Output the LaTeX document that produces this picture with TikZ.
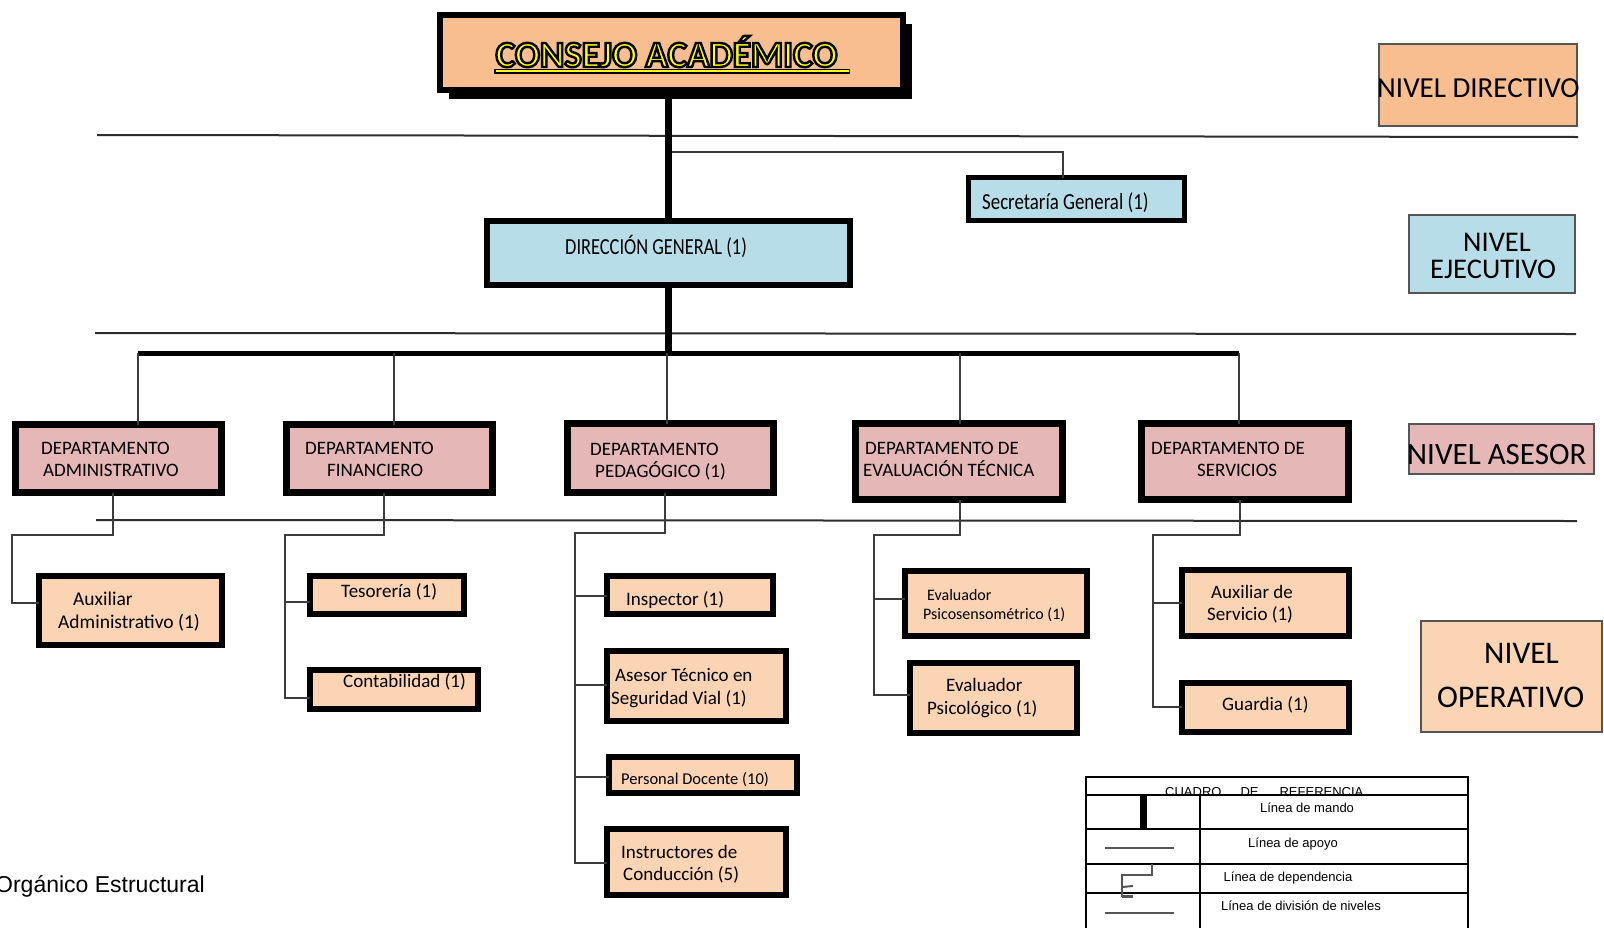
\documentclass[tikz,border=0pt]{standalone}
\usepackage{graphicx}
\usepackage{fontspec}
\setmainfont{Carlito}
\newfontfamily\arialf{Liberation Sans}
\usetikzlibrary{shadows,calc}
\definecolor{cpeach}{RGB}{248,190,143}
\definecolor{cblue}{RGB}{183,221,232}
\definecolor{cpink}{RGB}{229,184,183}
\definecolor{clight}{RGB}{251,212,180}
\definecolor{ctitle}{RGB}{255,255,0}
\definecolor{cline}{RGB}{45,45,45}
\definecolor{cdep}{RGB}{60,60,60}
\definecolor{cframe}{RGB}{85,85,85}
\newcommand{\fsz}[2]{\fontsize{#1}{#2}\selectfont}
\begin{document}
\begin{tikzpicture}[x=1pt,y=-1pt,
  box/.style={draw=black,rectangle,inner sep=0,outer sep=0},
  deptbox/.style={box,fill=cpink,line width=7pt},
  subbox/.style={box,fill=clight,line width=6pt},
  bluebox/.style={box,fill=cblue},
  levelbox/.style={box,draw=cframe,line width=2pt},
  txt/.style={inner sep=0,anchor=west,align=left},
  dtxt/.style={txt,font=\fsz{19}{22}},
  stxt/.style={txt,font=\fsz{19}{23}},
  ltxt/.style={inner sep=0,anchor=base,font=\arialf\fsz{13}{15}},
  mando/.style={line width=7pt,black},
  bus/.style={line width=5pt,black},
  apoyo/.style={line width=2.2pt,cdep},
  dep/.style={line width=2.8pt,cdep},
  nivel/.style={line width=2pt,cline},
  tabline/.style={line width=2.5pt,black},
]
\fill[white] (0,0) rectangle (1604,927);
\useasboundingbox (0,0) rectangle (1604,927);

% level division lines
\draw[nivel] (97,135) -- (1578,137);
\draw[nivel] (95,333) -- (1576,334);
\draw[nivel] (96,520) -- (1577,521);

% top
\node[box,fill=cpeach,line width=6pt,minimum width=463pt,minimum height=75pt,
  drop shadow={shadow xshift=9pt,shadow yshift=-9pt,fill=black,opacity=1}] (cons) at (671.5,52.5) {};
\draw[line width=5pt] (494,71) -- (850,71);
\draw[line width=2.2pt,ctitle] (495.5,71) -- (848.5,71);
\node[anchor=base,inner sep=0,font=\bfseries\fsz{37}{40}] (titulo) at (666.5,67)
  {\color{ctitle}\special{pdf:literal direct 0 0 0 RG 2 Tr 2.4 w}CONSEJO ACADÉMICO\special{pdf:literal direct 0 Tr 1 w}};

\node[bluebox,line width=6pt,minimum width=363pt,minimum height=64pt] (dg) at (668.5,253) {};
\node[txt] (dgT) at (565,246) {\scalebox{0.8}[1]{\fsz{23}{26}DIRECCIÓN GENERAL (1)}};
\node[bluebox,line width=5pt,minimum width=216pt,minimum height=43pt] (sec) at (1076.5,199) {};
\node[txt] (secT) at (982,203) {\scalebox{0.82}[1]{\fsz{23}{26}Secretaría General (1)}};

% command lines
\coordinate (sj) at (668.5,152);
\coordinate (bL) at (138,353);
\coordinate (bR) at (1239,353);
\coordinate (b2) at (394,353);
\coordinate (b3) at (667,353);
\coordinate (b4) at (960,353);
\draw[apoyo] (sj) -| ($(sec.north)+(-13.5,0)$);
\draw[mando] (cons.south -| dg.north) -- (dg.north);
\draw[mando] (dg.south) -- (dg.south |- bL);
\draw[bus] (bL) -- (bR);

% departments
\node[deptbox,minimum width=206pt,minimum height=68pt] (adm) at (118.5,458.5) {};
\node[deptbox,minimum width=206pt,minimum height=68pt] (fin) at (389.5,458.5) {};
\node[deptbox,minimum width=206pt,minimum height=69pt] (ped) at (670.5,458) {};
\node[deptbox,minimum width=207pt,minimum height=76pt] (ev) at (959,461.5) {};
\node[deptbox,minimum width=207pt,minimum height=76pt] (serv) at (1245,461.5) {};
\draw[apoyo] (bL) -- (bL |- adm.north);
\draw[apoyo] (b2) -- (b2 |- fin.north);
\draw[apoyo] (b3) -- (b3 |- ped.north);
\draw[apoyo] (b4) -- (b4 |- ev.north);
\draw[apoyo] (bR) -- (bR |- serv.north);
\node[dtxt] (admT) at (41,459) {DEPARTAMENTO\\\hspace*{2pt}ADMINISTRATIVO};
\node[dtxt] (finT) at (305,459) {DEPARTAMENTO\\\hspace*{22pt}FINANCIERO};
\node[dtxt] (pedT) at (590,462) {DEPARTAMENTO\\\hspace*{5pt}PEDAGÓGICO (1)};
\node[dtxt] (evT) at (863,459) {\hspace*{2pt}DEPARTAMENTO DE\\EVALUACIÓN TÉCNICA};
\node[dtxt] (servT) at (1151,459) {DEPARTAMENTO DE\\\hspace*{46pt}SERVICIOS};

% operative boxes
\node[subbox,minimum width=183pt,minimum height=69pt] (aux) at (130.5,610.5) {};
\node[subbox,minimum width=154pt,minimum height=38pt] (tes) at (387,595) {};
\node[subbox,minimum width=168pt,minimum height=39pt] (cont) at (394,689.5) {};
\node[subbox,minimum width=166pt,minimum height=38pt] (insp) at (690,595) {};
\node[subbox,minimum width=179pt,minimum height=70pt] (ases) at (696.5,686) {};
\node[subbox,minimum width=188pt,minimum height=36pt] (pers) at (703,775) {};
\node[subbox,minimum width=179pt,minimum height=66pt] (inst) at (696.5,862) {};
\node[subbox,minimum width=182pt,minimum height=65pt] (psm) at (996,603.5) {};
\node[subbox,minimum width=167pt,minimum height=70pt] (psl) at (993.5,698) {};
\node[subbox,minimum width=167pt,minimum height=66pt] (auxs) at (1265.5,603) {};
\node[subbox,minimum width=167pt,minimum height=49pt] (guar) at (1265.5,707.5) {};

\node[stxt,font=\fsz{19.5}{23}] (auxT) at (58,611.5) {\hspace*{15pt}Auxiliar\\Administrativo (1)};
\node[stxt] (tesT) at (341,592) {Tesorería (1)};
\node[stxt] (contT) at (343,682) {Contabilidad (1)};
\node[stxt] (inspT) at (626,600) {Inspector (1)};
\node[stxt] (asesT) at (611,688.5) {\hspace*{4pt}Asesor Técnico en\\Seguridad Vial (1)};
\node[stxt,font=\fsz{16.5}{19}] (persT) at (621,780) {Personal Docente (10)};
\node[stxt,font=\fsz{19}{22}] (instT) at (621,864) {Instructores de\\\hspace*{2pt}Conducción (5)};
\node[stxt,font=\fsz{16}{19}] (psmT) at (923,605.5) {\hspace*{4pt}Evaluador\\Psicosensométrico (1)};
\node[stxt] (pslT) at (927,698.5) {\hspace*{19pt}Evaluador\\Psicológico (1)};
\node[stxt,font=\fsz{19}{22}] (auxsT) at (1207,604) {\hspace*{4pt}Auxiliar de\\Servicio (1)};
\node[stxt] (guarT) at (1222,705) {Guardia (1)};

% dependency lines
\draw[dep] (adm.south -| 113,0) |- (12,535) |- (aux.west |- 0,603);
\draw[dep] (fin.south -| 384,0) |- (285,535) |- (cont.west |- 0,698);
\draw[dep] (285,602) -- (tes.west |- 0,602);
\draw[dep] (ped.south -| 665,0) |- (575,533) |- (inst.west |- 0,863);
\draw[dep] (575,596) -- (insp.west |- 0,596);
\draw[dep] (575,685) -- (ases.west |- 0,685);
\draw[dep] (575,777) -- (pers.west |- 0,777);
\draw[dep] (ev.south -| 960,0) |- (874,535) |- (psl.west |- 0,695);
\draw[dep] (874,599) -- (psm.west |- 0,599);
\draw[dep] (serv.south -| 1240,0) |- (1153,535) |- (guar.west |- 0,707);
\draw[dep] (1153,603) -- (auxs.west |- 0,603);

% level boxes
\node[levelbox,fill=cpeach,minimum width=198pt,minimum height=82pt] (ndir) at (1478,85) {};
\node[levelbox,fill=cblue,minimum width=166pt,minimum height=78pt] (neje) at (1492,254) {};
\node[levelbox,fill=cpink,minimum width=185pt,minimum height=50pt] (nase) at (1501.5,449) {};
\node[levelbox,fill=clight,minimum width=181pt,minimum height=111pt] (nope) at (1511.5,676.5) {};
\node[txt,font=\fsz{29}{32}] (ndirT) at (1377,88) {NIVEL DIRECTIVO};
\node[txt,font=\fsz{28.5}{27}] (nejeT) at (1430,255.5) {\hspace*{33pt}NIVEL\\EJECUTIVO};
\node[txt,font=\fsz{31}{34}] (naseT) at (1407,455) {NIVEL ASESOR};
\node[txt,font=\fsz{31.5}{44}] (nopeT) at (1437,675) {\hspace*{47pt}NIVEL\\OPERATIVO};

% legend
\node[ltxt,anchor=base west] (lhead) at (1165,796) {CUADRO\hspace{19pt}DE\hspace{21pt}REFERENCIA};
\node[ltxt] (l1) at (1307,812) {Línea de mando};
\node[ltxt] (l2) at (1293,847) {Línea de apoyo};
\node[ltxt] (l3) at (1288,881) {Línea de dependencia};
\node[ltxt] (l4) at (1301,910) {Línea de división de niveles};
\draw[tabline] (1086,940) -- (1086,777) -- (1468,777) -- (1468,940);
\draw[tabline] (1086,795) -- (1468,795);
\draw[tabline] (1086,829) -- (1468,829);
\draw[tabline] (1086,864) -- (1468,864);
\draw[tabline] (1086,893) -- (1468,893);
\draw[tabline] (1200,795) -- (1200,940);
\draw[line width=7pt] (1143,795) -- (1143,829);
\draw[line width=2.5pt,cframe] (1105,848) -- (1174,848);
\draw[line width=2pt,cframe] (1152,864) |- (1122,875) -- (1122,897);
\draw[line width=2pt,cframe] (1122,887) -- (1133,886);
\draw[line width=3pt,cframe] (1122,896) -- (1133,896);
\draw[line width=2.5pt,cframe] (1105,913) -- (1174,913);

% caption fragment
\node[anchor=base east,inner sep=0,font=\arialf\fsz{23}{26}] (pie) at (205,892) {Orgánico Estructural};
\end{tikzpicture}
\end{document}
